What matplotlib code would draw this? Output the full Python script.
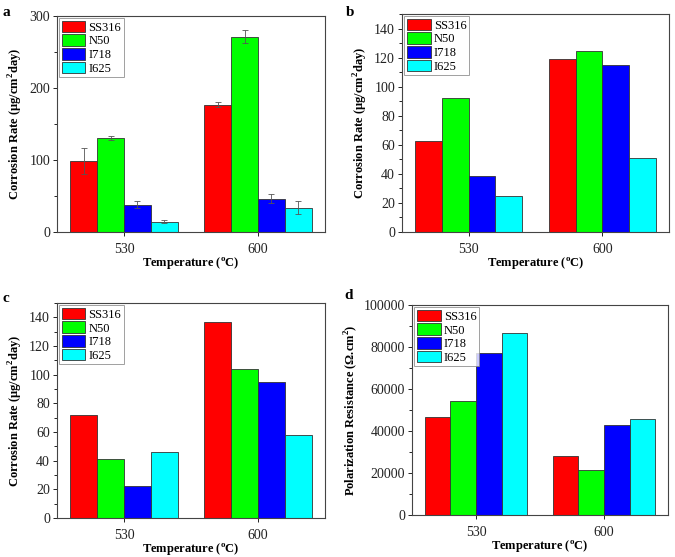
import matplotlib
matplotlib.use("Agg")
import matplotlib.pyplot as plt
import numpy as np
from matplotlib.ticker import MultipleLocator

plt.rcParams.update({
    'font.family': ['Liberation Serif', 'DejaVu Serif'],
    'font.size': 9,
    'axes.linewidth': 0.8,
    'axes.edgecolor': '#444444',
    'xtick.direction': 'out',
    'ytick.direction': 'out',
    'mathtext.fontset': 'custom',
    'mathtext.rm': 'Liberation Serif',
    'mathtext.bf': 'Liberation Serif:bold',
})

# ---- data ----
temps = ['530', '600']
alloys = ['SS316', 'N50', 'I718', 'I625']
colors = ['#FF0000', '#00FF00', '#0000FF', '#00FFFF']

# panel a: corrosion rate with error bars
rate_a = {
    'SS316': [98.5, 177],
    'N50': [131, 271],
    'I718': [38, 46.5],
    'I625': [14.5, 33.5],
}
err_a = {
    'SS316': [18, 3],
    'N50': [3, 9],
    'I718': [5, 6],
    'I625': [2, 9],
}
# panel b
rate_b = {
    'SS316': [62.9, 118.9],
    'N50': [92.5, 124.2],
    'I718': [38.6, 114.8],
    'I625': [24.6, 51.0],
}
# panel c
rate_c = {
    'SS316': [71.8, 136.8],
    'N50': [41.0, 103.8],
    'I718': [22.6, 94.6],
    'I625': [46.0, 58.2],
}
# panel d: polarization resistance
res_d = {
    'SS316': [46750, 28050],
    'N50': [54500, 21400],
    'I718': [77300, 42800],
    'I625': [86850, 45950],
}

rate_label = 'Corrosion Rate (\u03bcg/cm$^{\\mathbf{2}}$day)'
res_label = 'Polarization Resistance (\u03a9.cm$^{\\mathbf{2}}$)'
x_label = 'Temperature ($^{\\mathbf{o}}$C)'

fig = plt.figure(figsize=(6.75, 5.57), dpi=100)

panels = [
    # (rect, data, err, ylim, major, minor, ylabel, letter, letter pos)
    ([0.0844, 0.5835, 0.397, 0.3878], rate_a, err_a, 300, 100, 50, rate_label, 'a', (0.004, 0.99)),
    ([0.5956, 0.5835, 0.3956, 0.3914], rate_b, None, 150, 20, 10, rate_label, 'b', (0.513, 0.99)),
    ([0.0844, 0.0700, 0.397, 0.3860], rate_c, None, 150, 20, 10, rate_label, 'c', (0.004, 0.475)),
    ([0.6104, 0.0754, 0.3793, 0.3770], res_d, None, 100000, 20000, 10000, res_label, 'd', (0.51, 0.482)),
]

x = np.arange(len(temps))
width = 0.2

for rect, data, err, ytop, major, minor, ylabel, letter, lpos in panels:
    ax = fig.add_axes(rect)
    for i, alloy in enumerate(alloys):
        offs = (i - 1.5) * width
        ax.bar(x + offs, data[alloy], width, color=colors[i], edgecolor='#333333',
               linewidth=0.6, label=alloy, zorder=2)
        if err is not None:
            ax.errorbar(x + offs, data[alloy], yerr=err[alloy], fmt='none',
                        ecolor='#555555', elinewidth=0.6, capsize=2, capthick=0.6, zorder=3)
    ax.set_xlim(-0.5, 1.5)
    ax.set_ylim(0, ytop)
    ax.set_xticks(x)
    ax.set_xticklabels(temps)
    ax.yaxis.set_major_locator(MultipleLocator(major))
    ax.yaxis.set_minor_locator(MultipleLocator(minor))
    ax.tick_params(axis='both', length=3, width=0.7, pad=2, colors='#222222', labelsize=10)
    ax.tick_params(axis='x', pad=5)
    ax.tick_params(axis='y', which='minor', length=2, width=0.6)
    ax.set_xlabel(x_label, fontweight='bold', fontsize=9, labelpad=0)
    ax.set_ylabel(ylabel, fontweight='bold', fontsize=9, labelpad=3)
    leg = ax.legend(loc='upper left', fontsize=9, frameon=True, fancybox=False,
                    handlelength=1.9, handleheight=1.05, labelspacing=0.05,
                    handletextpad=0.25, borderpad=0.2, borderaxespad=0.18)
    leg.get_frame().set_edgecolor('#888888')
    leg.get_frame().set_linewidth(0.7)
    fig.text(lpos[0], lpos[1], letter, fontweight='bold', fontsize=11,
             ha='left', va='top')

fig.savefig('out.png', dpi=100)
